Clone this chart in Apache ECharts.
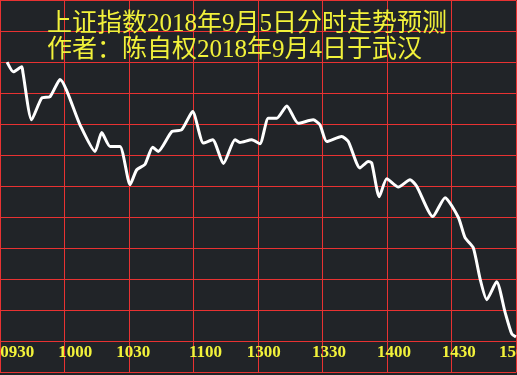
<!DOCTYPE html>
<html>
<head>
<meta charset="utf-8">
<script src="https://cdn.jsdelivr.net/npm/echarts@6/dist/echarts.min.js"></script>
<style>html,body{margin:0;padding:0;background:#212428;overflow:hidden;width:517px;height:375px;}#c{width:560px;height:375px;}</style>
</head>
<body>
<div id="c"></div>
<script>
// Titles
const titleLines = ['上证指数2018年9月5日分时走势预测', '作者：陈自权2018年9月4日于武汉'];
// Time axis labels and the minute (from 09:30) where each is printed
const tickLabels = ['0930', '1000', '1030', '1100', '1300', '1330', '1400', '1430', '1500'];
const tickMinutes = [8, 35, 62, 95.6, 122.7, 153, 183.2, 213.4, 240];
// Forecast curve: minutes since open (trading minutes) and level (grid units, 0..12)
const minutes = [3.3, 6.2, 10.1, 10.7, 14.7, 19.4, 23.3, 27.9, 37.2, 44.2, 47.3, 51.2, 55.8, 60.5, 63.6, 67.4, 71.0, 73.6, 79.9, 84.5, 89.6, 94.6, 98.9, 103.9, 109.3, 111.6, 117.1, 120.9, 124.8, 128.7, 133.4, 138.7, 145.7, 148.8, 152.0, 158.9, 162.0, 167.4, 171.3, 172.9, 176.4, 179.9, 185.3, 190.7, 193.8, 201.3, 207.0, 213.2, 216.3, 220.1, 223.3, 226.4, 231.0, 234.9, 238.0, 240];
const levels = [10.01, 9.70, 9.86, 9.66, 8.15, 8.85, 8.90, 9.45, 7.99, 7.13, 7.74, 7.29, 7.29, 6.06, 6.54, 6.71, 7.27, 7.13, 7.77, 7.83, 8.42, 7.40, 7.51, 6.74, 7.51, 7.42, 7.51, 7.38, 8.20, 8.20, 8.60, 8.04, 8.15, 7.99, 7.45, 7.61, 7.45, 6.60, 6.81, 6.76, 5.67, 6.25, 5.98, 6.22, 6.01, 5.03, 5.64, 5.00, 4.35, 4.03, 3.02, 2.35, 2.93, 1.95, 1.25, 1.15];

const chart = echarts.init(document.getElementById('c'), null, {renderer: 'canvas'});
const gridRed = '#e83232';
const yellow = '#f2f23a';
chart.setOption({
  backgroundColor: '#212428',
  animation: false,
  title: {
    text: titleLines.join('\n'),
    left: 47,
    top: 11,
    padding: 0,
    textStyle: {
      color: yellow,
      fontSize: 25,
      lineHeight: 26,
      fontWeight: 'normal',
      fontFamily: '"Liberation Serif", "Noto Sans CJK SC", sans-serif'
    }
  },
  grid: {left: 0, width: 516, top: 0.5, height: 372, containLabel: false, outerBoundsMode: 'none'},
  xAxis: [{
    type: 'value', min: 0, max: 240, interval: 30,
    axisLine: {show: false}, axisTick: {show: false}, axisLabel: {show: false},
    splitLine: {show: true, lineStyle: {color: gridRed, width: 1}}
  }, {
    type: 'value', min: 0, max: 240, position: 'bottom',
    axisLine: {show: false}, axisTick: {show: false}, splitLine: {show: false},
    axisLabel: {
      show: true, inside: true, margin: 11,
      customValues: tickMinutes,
      showMinLabel: true, showMaxLabel: true, hideOverlap: false,
      formatter: function (v) { const i = tickMinutes.indexOf(v); return i >= 0 ? tickLabels[i] : ''; },
      color: yellow, fontSize: 17, fontWeight: 'bold',
      fontFamily: '"Liberation Serif", serif'
    }
  }],
  yAxis: {
    type: 'value', min: 0, max: 12, interval: 1,
    axisLine: {show: false}, axisTick: {show: false}, axisLabel: {show: false},
    splitLine: {show: true, lineStyle: {color: gridRed, width: 1}}
  },
  series: [{
    type: 'line',
    xAxisIndex: 0,
    data: minutes.map((m, i) => [m, levels[i]]),
    smooth: 0.2,
    showSymbol: false,
    lineStyle: {color: '#ffffff', width: 3},
    clip: true
  }]
});
</script>
</body>
</html>
